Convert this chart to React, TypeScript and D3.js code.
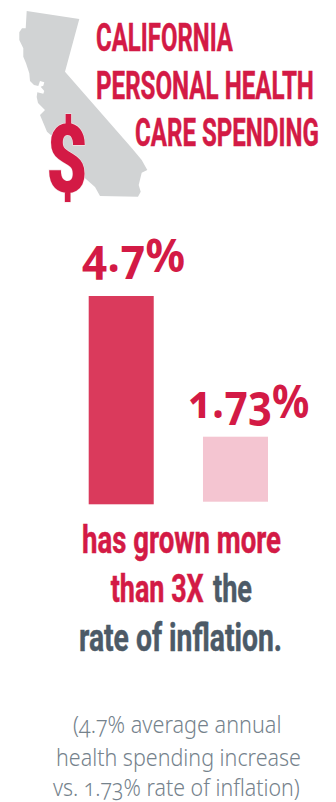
import React from "react";
import * as d3 from "d3";

const RED = "#d31a45";
const SLATE = "#4c5a67";
const GREY_TEXT = "#75828c";

const barLabels = ["4.7%", "1.73%"];
const barValues = [4.7, 1.73];
const barColors = ["#da3a5c", "#f4c5d1"];
const barBottoms = [504.3, 501.7];

const titleLines = ["CALIFORNIA", "PERSONAL HEALTH", "CARE SPENDING"];
const footnoteLines = [
  "(4.7% average annual",
  "health spending increase",
  "vs. 1.73% rate of inflation)",
];

// Outline of the state, traced from the north-west corner: east side, south border, then the coast.
const stateOutline: [number, number][] = [
  [26.7, 11], [79.3, 19], [65, 71.7], [131.7, 148], [141.7, 160], [147.3, 170], [141.7, 172.7],
  [138.7, 185], [140.7, 191.7], [138, 196.7], [100, 196], [95, 187], [78, 172], [72, 160],
  [60, 143], [47, 131.7], [40, 115], [45, 110], [38, 103], [36.7, 97], [37.3, 92.3], [43.3, 93.7],
  [44.3, 91], [40.7, 86.7], [43.3, 85.7], [44.3, 82.3], [40, 81], [38.3, 86], [34, 85], [30, 81],
  [29.3, 73.3], [26, 63.3], [23.3, 56.7], [23.3, 48.3], [19.3, 40], [19.3, 32.3], [22, 28.3],
  [25.7, 28.3],
];

const x = d3.scaleBand<number>().domain([0, 1]).range([88.7, 268]).paddingInner(0.431).paddingOuter(0);
const y = d3.scaleLinear().domain([0, 4.7]).range([518.66, 296]);
const outlinePath = d3.line().curve(d3.curveLinear)(stateOutline) + "Z";

const condensed = "Roboto, 'Liberation Sans', sans-serif";
const humanist = "'Noto Sans', 'Open Sans', sans-serif";

const measureCtx = document.createElement("canvas").getContext("2d")!;

// Draws one line of text squeezed horizontally so it spans exactly `width` pixels.
function FitText({ text, x: left, y: base, width, size, weight, family, fill, oldstyle, thicken }: {
  text: string; x: number; y: number; width: number; size: number; weight: number;
  family: string; fill: string; oldstyle?: boolean; thicken?: number;
}) {
  measureCtx.font = `${weight} ${size}px ${family}`;
  const natural = measureCtx.measureText(text).width;
  return (
    <text
      transform={`translate(${left},${base}) scale(${width / natural},1)`}
      fontFamily={family}
      fontWeight={weight}
      fontSize={size}
      fill={fill}
      stroke={thicken ? fill : "none"}
      strokeWidth={thicken}
      style={oldstyle ? { fontVariantNumeric: "oldstyle-nums" } : undefined}
    >
      {text}
    </text>
  );
}

export default function App() {
  return (
    <svg width={336} height={802} viewBox="0 0 336 802" style={{ position: "absolute", left: 0, top: 0, background: "#fff" }}>
      <path d={outlinePath} fill="#d1d3d4" />

      <text textAnchor="middle" fontFamily={condensed} fontWeight={900} fontSize={94} fill={RED} stroke="#f3e3e6" strokeWidth={1.2} paintOrder="stroke" transform="translate(67,192) scale(0.76,1)">$</text>

      {titleLines.map((line, i) => (
        <FitText key={line} text={line} x={[96, 96, 135][i]} y={[51, 98.5, 146][i]} width={[137, 218, 184][i]} size={39} weight={700} family={condensed} fill={RED} thicken={0.5} />
      ))}

      {barValues.map((v, i) => (
        <rect key={barLabels[i]} x={x(i)} width={x.bandwidth()} y={y(v)} height={barBottoms[i] - y(v)} fill={barColors[i]} />
      ))}

      {barLabels.map((label, i) => (
        <FitText key={label} text={label} x={[82, 188][i]} y={[272, 418][i]} width={[102, 120][i]} size={46} weight={700} family={humanist} fill={RED} oldstyle />
      ))}

      <FitText text="has grown more" x={82} y={553} width={199} size={38} weight={700} family={condensed} fill={RED} thicken={0.5} />
      <FitText text="than 3X" x={110.7} y={602} width={93} size={38} weight={700} family={condensed} fill={RED} thicken={0.5} />
      <FitText text="the" x={213} y={602} width={39} size={38} weight={700} family={condensed} fill={SLATE} thicken={0.5} />
      <FitText text="rate of inflation." x={79} y={651} width={203} size={38} weight={700} family={condensed} fill={SLATE} thicken={0.5} />

      {footnoteLines.map((line, i) => (
        <FitText key={line} text={line} x={[73, 56, 53][i]} y={[733, 766, 796][i]} width={[210, 245, 249][i]} size={23} weight={300} family={humanist} fill={GREY_TEXT} oldstyle />
      ))}
    </svg>
  );
}
